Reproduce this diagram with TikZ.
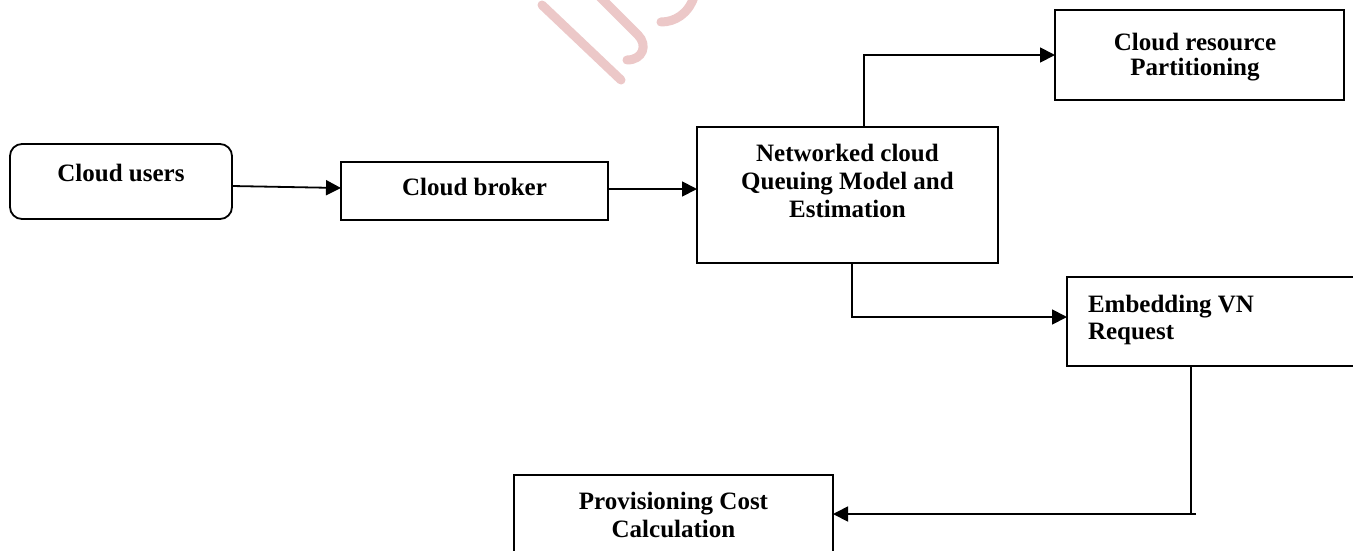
\documentclass[tikz,border=0pt]{standalone}
\usepackage{fontspec}
\setmainfont{Liberation Serif}
\usetikzlibrary{arrows.meta}
\definecolor{wmpink}{RGB}{236,200,200}
\tikzset{
  box/.style={draw, line width=1.8pt, inner sep=0pt, outer sep=0pt},
  lbl/.style={inner sep=0pt, outer sep=0pt, font=\bfseries\fontsize{25}{28}\selectfont},
  link/.style={line width=1.8pt},
  arr/.style={line width=1.8pt, -{Triangle[length=15pt,width=15pt]}},
  mark stroke/.style={draw=wmpink, line width=9pt, line cap=round}
}
\begin{document}
\begin{tikzpicture}[x=1pt,y=-1pt]
\clip (0,0) rectangle (1353,550);
\fill[white] (0,0) rectangle (1353,550);

% faint lettering behind the chart
\draw[mark stroke] (542,5) -- (621,80);
\draw[mark stroke] (600,-3) -- (638,35) .. controls (648,45) and (643,60) .. (627,60);
\draw[mark stroke] (661,22) .. controls (675,22) and (688,14) .. (694,-3);

% boxes
\node[box, rounded corners=12pt, minimum width=222pt, minimum height=75pt] (users) at (121,181.5) {};
\node[box, minimum width=267pt, minimum height=58pt] (broker) at (474.5,191) {};
\node[box, minimum width=301pt, minimum height=136pt] (net) at (847.5,195) {};
\node[box, minimum width=289pt, minimum height=90pt] (res) at (1199.5,55) {};
\node[box, minimum width=293pt, minimum height=89pt] (emb) at (1213.5,321.5) {};
\node[box, minimum width=319pt, minimum height=78pt] (prov) at (673.5,514) {};

% labels
\node[lbl, anchor=base] (users-t) at (121,181) {Cloud users};
\node[lbl, anchor=base] (broker-t) at (474.5,195) {Cloud broker};
\node[lbl, anchor=north, align=center] (net-t) at (847.5,144) {Networked cloud\\Queuing Model and\\Estimation};
\node[lbl, anchor=north, align=center, font=\bfseries\fontsize{25}{25}\selectfont] (res-t) at (1195,33) {Cloud resource\\Partitioning};
\node[lbl, anchor=north west, align=left, font=\bfseries\fontsize{25}{27}\selectfont] (emb-t) at (1088,295) {Embedding VN\\Request};
\node[lbl, anchor=north, align=center] (prov-t) at (673.5,492) {Provisioning Cost\\Calculation};

% connectors
\draw[arr] ([yshift=-4.5pt]users.east) -- ([yshift=3pt]broker.west);
\draw[arr] ([yshift=2pt]broker.east) -- ([yshift=6pt]net.west);
\draw[arr] ([xshift=16.5pt]net.north) |- (res.west);
\draw[arr] ([xshift=4.5pt]net.south) |- ([yshift=4.5pt]emb.west);
\coordinate (bend) at (1191,514);
\coordinate (tail) at (1196,514);
\draw[link] (bend |- emb.south) -- (bend);
\draw[arr] (tail) -- (prov.east);
\end{tikzpicture}
\end{document}
